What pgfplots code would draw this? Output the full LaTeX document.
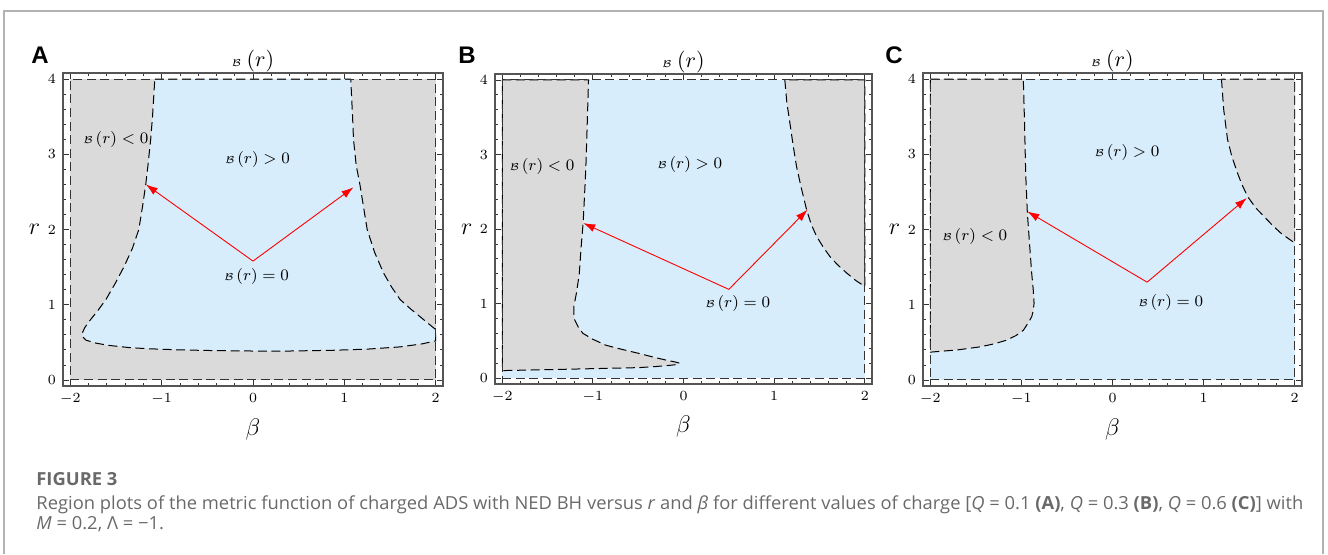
\documentclass[border=0pt]{standalone}
\usepackage{fontspec}
\setmainfont{Open Sans}
\newfontfamily\panelfont{Liberation Sans}
\usepackage{graphicx}
\usepackage{pgfplots}
\pgfplotsset{compat=1.18}
\usetikzlibrary{arrows.meta}

\definecolor{posblue}{RGB}{215,237,251}
\definecolor{neggray}{RGB}{218,218,218}
\definecolor{capgray}{RGB}{105,105,105}
\definecolor{framegray}{RGB}{85,85,85}

% tiny script B used in every label
\newcommand{\Bs}{{\fontsize{3.6}{4}\selectfont$\mathcal{B}$}}

\pgfplotsset{
  regplot/.style={
    scale only axis, anchor=south west,
    xmin=-2.08, xmax=2.08, ymin=-0.08, ymax=4.08,
    xtick={-2,-1,0,1,2}, ytick={0,1,2,3,4},
    minor tick num=4,
    tick align=inside,
    major tick length=3pt, minor tick length=1.6pt,
    every tick/.style={black!80, line width=0.4pt},
    axis line style={framegray, line width=0.8pt},
    tick label style={font=\fontsize{7}{8}\selectfont},
    xlabel={$\beta$}, ylabel={$r$},
    label style={font=\fontsize{12}{14}\selectfont},
    xlabel style={at={(axis description cs:0.5,-0.138)}, anchor=center},
    ylabel style={at={(axis description cs:-0.075,0.5)}, anchor=center, rotate=-90},
    every axis title shift=0pt,
    title={\Bs\ {\fontsize{10.5}{12}\selectfont$(r)$}},
    title style={at={(axis description cs:0.5,1.038)}, anchor=center},
    axis on top,
  },
  bnd/.style={draw=black, line width=0.5pt, dash pattern=on 4.5pt off 2.3pt},
  box/.style={draw=black!80, line width=0.5pt, dash pattern=on 4.5pt off 2.3pt},
  arr/.style={red, line width=0.45pt, -{Latex[length=6pt,width=4pt]}},
}
\tikzset{lbl/.style={font=\fontsize{8}{9}\selectfont}}

\newsavebox\capline
\begin{document}%
\sbox\capline{\color{capgray}\fontsize{9}{11}\selectfont Region plots of the metric function of charged ADS with NED BH versus \textit{r} and \textit{β} for different values of charge [\textit{Q} = 0.1 \textbf{(A)}, \textit{Q} = 0.3 \textbf{(B)}, \textit{Q} = 0.6 \textbf{(C)}] with}%
\pgfmathsetmacro\capscale{633.5/\the\wd\capline}%
\begin{tikzpicture}
\path[use as bounding box] (0,0) rectangle (664pt,277pt);
\draw[black!30, line width=0.6pt] (2pt,0) -- (2pt,271.5pt) -- (661.5pt,271.5pt) -- (661.5pt,0);

% ---------------- panel A : Q = 0.1
\begin{axis}[regplot, at={(31.5pt,84pt)}, width=190pt, height=156.5pt]
\addplot[fill=neggray, draw=none] coordinates {(-2,0) (2,0) (2,4) (-2,4)} --cycle;
\addplot[fill=posblue, bnd] coordinates {
  (-1.075,4) (1.07,4) (1.09,3.5) (1.10,3.2) (1.13,2.85) (1.17,2.6) (1.21,2.3)
  (1.25,2.0) (1.33,1.7) (1.43,1.42) (1.52,1.23) (1.61,1.07) (1.72,0.95)
  (1.83,0.84) (1.92,0.75) (2,0.67) (2,0.52) (1.85,0.48) (1.61,0.44) (1.25,0.41)
  (0.88,0.395) (0.4,0.385) (0,0.385) (-0.4,0.39) (-0.8,0.40) (-1.14,0.415)
  (-1.35,0.43) (-1.58,0.46) (-1.72,0.49) (-1.83,0.53) (-1.86,0.57) (-1.87,0.62)
  (-1.84,0.70) (-1.78,0.8) (-1.70,0.92) (-1.61,1.07) (-1.51,1.28) (-1.41,1.51)
  (-1.32,1.75) (-1.25,2.0) (-1.21,2.3) (-1.174,2.6) (-1.15,2.85) (-1.12,3.2)
  (-1.10,3.5)} --cycle;
\addplot[box] coordinates {(-2,0) (2,0) (2,4) (-2,4)} --cycle;
\addplot[arr] coordinates {(0,1.58) (-1.174,2.6)};
\addplot[arr] coordinates {(0,1.58) (1.10,2.56)};
\node[lbl] at (axis cs:-1.50,3.2) {\Bs\,$(r)<0$};
\node[lbl] at (axis cs:0.05,2.93) {\Bs\,$(r)>0$};
\node[lbl] at (axis cs:0.04,1.38) {\Bs\,$(r)=0$};
\end{axis}

% ---------------- panel B : Q = 0.3
\begin{axis}[regplot, at={(247.5pt,85pt)}, width=188.5pt, height=155pt]
\addplot[fill=posblue, draw=none] coordinates {(-2,0) (2,0) (2,4) (-2,4)} --cycle;
\addplot[fill=neggray, bnd] coordinates {
  (-2,4) (-1.048,4) (-1.06,3.5) (-1.077,2.84) (-1.09,2.5) (-1.107,2.09)
  (-1.13,1.75) (-1.15,1.40) (-1.18,1.15) (-1.21,0.96) (-1.21,0.86) (-1.20,0.78)
  (-1.16,0.68) (-1.11,0.60) (-1.0,0.52) (-0.856,0.44) (-0.68,0.385) (-0.49,0.33)
  (-0.33,0.28) (-0.19,0.24) (-0.09,0.215) (-0.044,0.20) (-0.08,0.18)
  (-0.155,0.17) (-0.3,0.155) (-0.49,0.14) (-0.85,0.13) (-1.225,0.12)
  (-1.6,0.11) (-2,0.10)} --cycle;
\addplot[fill=neggray, bnd] coordinates {
  (1.118,4) (1.14,3.7) (1.173,3.43) (1.21,3.12) (1.247,2.84) (1.30,2.55)
  (1.358,2.26) (1.41,2.06) (1.469,1.90) (1.54,1.76) (1.616,1.63) (1.70,1.52)
  (1.80,1.41) (1.90,1.31) (2,1.23) (2,4)} --cycle;
\addplot[box] coordinates {(-2,0) (2,0) (2,4) (-2,4)} --cycle;
\addplot[arr] coordinates {(0.50,1.19) (-1.107,2.08)};
\addplot[arr] coordinates {(0.50,1.19) (1.369,2.26)};
\node[lbl] at (axis cs:-1.56,2.84) {\Bs\,$(r)<0$};
\node[lbl] at (axis cs:0.07,2.86) {\Bs\,$(r)>0$};
\node[lbl] at (axis cs:0.60,1.00) {\Bs\,$(r)=0$};
\end{axis}

% ---------------- panel C : Q = 0.6
\begin{axis}[regplot, at={(461.5pt,84pt)}, width=189.5pt, height=156.5pt]
\addplot[fill=posblue, draw=none] coordinates {(-2,0) (2,0) (2,4) (-2,4)} --cycle;
\addplot[fill=neggray, bnd] coordinates {
  (-2,4) (-0.979,4) (-0.965,3.4) (-0.953,2.75) (-0.935,2.23) (-0.91,1.8)
  (-0.887,1.42) (-0.87,1.2) (-0.861,1.02) (-0.87,0.92) (-0.887,0.84)
  (-0.93,0.75) (-0.979,0.66) (-1.06,0.59) (-1.16,0.53) (-1.30,0.48)
  (-1.456,0.44) (-1.7,0.40) (-2,0.37)} --cycle;
\addplot[fill=neggray, bnd] coordinates {
  (1.196,4) (1.22,3.6) (1.262,3.2) (1.31,2.97) (1.372,2.75) (1.42,2.6)
  (1.482,2.44) (1.57,2.29) (1.666,2.17) (1.76,2.05) (1.85,1.95) (1.93,1.88)
  (2,1.82) (2,4)} --cycle;
\addplot[box] coordinates {(-2,0) (2,0) (2,4) (-2,4)} --cycle;
\addplot[arr] coordinates {(0.38,1.30) (-0.935,2.24)};
\addplot[arr] coordinates {(0.38,1.30) (1.475,2.42)};
\node[lbl] at (axis cs:-1.51,1.91) {\Bs\,$(r)<0$};
\node[lbl] at (axis cs:0.16,3.03) {\Bs\,$(r)>0$};
\node[lbl] at (axis cs:0.64,1.03) {\Bs\,$(r)=0$};
\end{axis}

% panel letters
\node[anchor=base west, inner sep=0, font=\panelfont\bfseries\fontsize{12}{14}\selectfont] at (15.5pt,245.5pt) {A};
\node[anchor=base west, inner sep=0, font=\panelfont\bfseries\fontsize{12}{14}\selectfont] at (229pt,245.5pt) {B};
\node[anchor=base west, inner sep=0, font=\panelfont\bfseries\fontsize{12}{14}\selectfont] at (442.5pt,245.5pt) {C};

% caption
\node[anchor=base west, inner sep=0, text=capgray, font=\fontsize{9}{11}\selectfont\bfseries] at (18pt,34.5pt) {\scalebox{\capscale}[1]{FIGURE 3}};
\node[anchor=base west, inner sep=0, text=capgray] at (18pt,22.5pt) {\scalebox{\capscale}[1]{\usebox\capline}};
\node[anchor=base west, inner sep=0, text=capgray, font=\fontsize{9}{11}\selectfont] at (18pt,12.5pt) {\scalebox{\capscale}[1]{\textit{M} = 0.2, Λ = −1.}};
\end{tikzpicture}%
\end{document}
